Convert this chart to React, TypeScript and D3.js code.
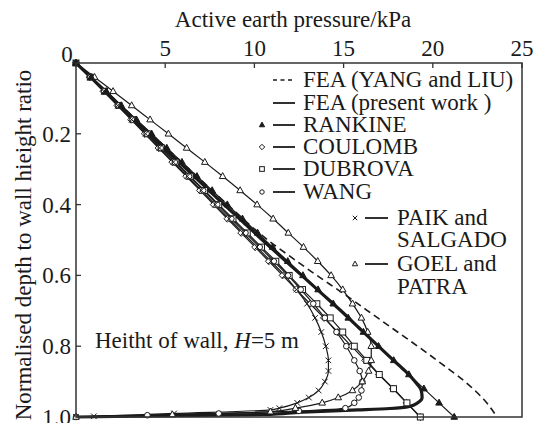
import React from 'react';
import * as d3 from 'd3';

type Pt = [number, number]; // [active earth pressure kPa, normalised depth]

const xTicks = [5, 10, 15, 20, 25];
const yTicks = [0.2, 0.4, 0.6, 0.8, 1.0];
const yTickLabels = ['0.2', '0.4', '0.6', '0.8', '1.0'];

const yangLiu: Pt[] = [
  [0, 0], [2.1, 0.1], [4.2, 0.2], [6.35, 0.3], [8.5, 0.4], [10.75, 0.5], [12.1, 0.55],
  [13.5, 0.6], [14.95, 0.65], [16.35, 0.7], [17.75, 0.75], [19.15, 0.8], [20.5, 0.85],
  [21.8, 0.9], [22.85, 0.95], [23.6, 1.0],
];

const femPresent: Pt[] = [
  [0, 0], [1.02, 0.05], [2.05, 0.1], [3.08, 0.15], [4.12, 0.2], [5.15, 0.25], [6.2, 0.3],
  [7.25, 0.35], [8.3, 0.4], [9.38, 0.45], [10.45, 0.5], [11.55, 0.55], [12.65, 0.6],
  [13.75, 0.65], [14.85, 0.7], [15.9, 0.75], [16.95, 0.8], [17.8, 0.84], [18.45, 0.87],
  [19.0, 0.9], [19.35, 0.925], [19.4, 0.945], [19.15, 0.96], [18.7, 0.97], [17.6, 0.976],
  [15.8, 0.98], [12.7, 0.986], [10.5, 0.993], [0, 1.0],
];

const rankine: Pt[] = [
  [0, 0], [0.85, 0.04], [1.7, 0.08], [2.54, 0.12], [3.39, 0.16], [4.24, 0.2], [5.09, 0.24],
  [5.94, 0.28], [6.78, 0.32], [7.63, 0.36], [8.48, 0.4], [9.33, 0.44], [10.18, 0.48],
  [11.02, 0.52], [11.87, 0.56], [12.72, 0.6], [13.57, 0.64], [14.42, 0.68], [15.26, 0.72],
  [16.11, 0.76], [16.96, 0.8], [17.81, 0.84], [18.66, 0.88], [19.5, 0.92], [20.35, 0.96],
  [21.2, 1.0],
];

const coulomb: Pt[] = [
  [0, 0], [0.77, 0.04], [1.54, 0.08], [2.32, 0.12], [3.09, 0.16], [3.86, 0.2], [4.63, 0.24],
  [5.4, 0.28], [6.18, 0.32], [6.95, 0.36], [7.72, 0.4], [8.49, 0.44], [9.26, 0.48],
  [10.04, 0.52], [10.81, 0.56], [11.58, 0.6], [12.35, 0.64], [13.12, 0.68], [13.9, 0.72],
  [14.67, 0.76], [15.44, 0.8], [16.21, 0.84], [16.98, 0.88], [17.76, 0.92], [18.53, 0.96],
  [19.3, 1.0],
];

const dubrova: Pt[] = [
  [0, 0], [0.8, 0.04], [1.6, 0.08], [2.4, 0.12], [3.2, 0.16], [4.0, 0.2], [4.8, 0.24],
  [5.6, 0.28], [6.4, 0.32], [7.2, 0.36], [8.0, 0.4], [8.8, 0.44], [9.6, 0.48], [10.4, 0.52],
  [11.2, 0.56], [11.95, 0.6], [12.7, 0.64], [13.5, 0.68], [14.25, 0.72], [14.95, 0.76],
  [15.6, 0.8], [16.3, 0.84], [17.0, 0.88], [17.8, 0.92], [18.55, 0.96], [19.3, 1.0],
];

const wang: Pt[] = [
  [0, 0], [0.79, 0.04], [1.58, 0.08], [2.38, 0.12], [3.17, 0.16], [3.96, 0.2], [4.75, 0.24],
  [5.54, 0.28], [6.34, 0.32], [7.13, 0.36], [7.92, 0.4], [8.71, 0.44], [9.5, 0.48],
  [10.3, 0.52], [11.09, 0.56], [11.88, 0.6], [12.6, 0.64], [13.3, 0.68], [13.95, 0.72],
  [14.6, 0.76], [15.15, 0.8], [15.6, 0.84], [15.9, 0.87], [16.05, 0.9], [16.0, 0.925],
  [15.85, 0.945], [15.6, 0.96], [15.1, 0.975], [12.5, 0.983], [8.0, 0.99], [4.0, 0.995],
  [0, 1.0],
];

const paik: Pt[] = [
  [0, 0], [0.78, 0.04], [1.56, 0.08], [2.34, 0.12], [3.12, 0.16], [3.9, 0.2], [4.68, 0.24],
  [5.46, 0.28], [6.24, 0.32], [7.02, 0.36], [7.8, 0.4], [8.58, 0.44], [9.36, 0.48],
  [10.14, 0.52], [10.92, 0.56], [11.7, 0.6], [12.35, 0.64], [12.95, 0.68], [13.4, 0.72],
  [13.75, 0.76], [14.0, 0.8], [14.15, 0.84], [14.15, 0.87], [13.95, 0.9], [13.6, 0.925],
  [13.05, 0.945], [12.4, 0.96], [11.4, 0.975], [10.9, 0.98], [5.5, 0.99], [1.0, 0.998],
  [0, 1.0],
];

const goel: Pt[] = [
  [0, 0], [1.04, 0.04], [2.08, 0.08], [3.12, 0.12], [4.15, 0.16], [5.18, 0.2], [6.2, 0.24],
  [7.22, 0.28], [8.22, 0.32], [9.2, 0.36], [10.15, 0.4], [11.05, 0.44], [11.9, 0.48],
  [12.75, 0.52], [13.55, 0.56], [14.3, 0.6], [14.95, 0.64], [15.5, 0.68], [16.0, 0.72],
  [16.35, 0.76], [16.55, 0.8], [16.55, 0.84], [16.4, 0.87], [16.05, 0.9], [15.5, 0.925],
  [14.7, 0.945], [13.8, 0.96], [12.3, 0.975], [10.9, 0.985], [5.4, 0.993], [0, 1.0],
];

const legendLeft = ['FEA (YANG and LIU)', 'FEA (present work )', 'RANKINE', 'COULOMB', 'DUBROVA', 'WANG'];
const legendRightPaik = ['PAIK and', 'SALGADO'];
const legendRightGoel = ['GOEL and', 'PATRA'];

const FONT = 'Liberation Serif';
const FS = 23;
const INK = '#1a1a1a';

type MarkerKind = 'triFilled' | 'triOpen' | 'diamond' | 'square' | 'circle' | 'times';

function T(props: any) {
  const { children, ...rest } = props;
  return (
    <text fontFamily={FONT} fontSize={FS} fill={INK} {...rest}>
      {children}
    </text>
  );
}

function Marker({ kind, cx, cy, s = 3.3 }: { kind: MarkerKind; cx: number; cy: number; s?: number }) {
  const sw = 1;
  switch (kind) {
    case 'triFilled':
    case 'triOpen': {
      const h = s * 1.8;
      const d = `M${cx},${cy - h * 0.62}L${cx + s},${cy + h * 0.38}L${cx - s},${cy + h * 0.38}Z`;
      return <path d={d} fill={kind === 'triFilled' ? INK : '#fff'} stroke={INK} strokeWidth={sw} />;
    }
    case 'diamond': {
      const r = s * 1.05;
      const d = `M${cx},${cy - r}L${cx + r},${cy}L${cx},${cy + r}L${cx - r},${cy}Z`;
      return <path d={d} fill="#fff" stroke={INK} strokeWidth={sw} />;
    }
    case 'square':
      return <rect x={cx - s * 0.9} y={cy - s * 0.9} width={s * 1.8} height={s * 1.8} fill="#fff" stroke={INK} strokeWidth={sw} />;
    case 'circle':
      return <circle cx={cx} cy={cy} r={s * 0.85} fill="#fff" stroke={INK} strokeWidth={sw} />;
    case 'times': {
      const r = s * 0.85;
      return (
        <path d={`M${cx - r},${cy - r}L${cx + r},${cy + r}M${cx - r},${cy + r}L${cx + r},${cy - r}`} stroke={INK} strokeWidth={sw} fill="none" />
      );
    }
  }
  return null;
}

export default function App() {
  const x = d3.scaleLinear().domain([0, 25]).range([76, 522]);
  const y = d3.scaleLinear().domain([0, 1]).range([63, 417]);

  const smooth = d3.line<Pt>().x((p) => x(p[0])).y((p) => y(p[1])).curve(d3.curveMonotoneY);
  const straight = d3.line<Pt>().x((p) => x(p[0])).y((p) => y(p[1]));

  const marked: { data: Pt[]; kind: MarkerKind; curved: boolean }[] = [
    { data: coulomb, kind: 'diamond', curved: false },
    { data: dubrova, kind: 'square', curved: true },
    { data: wang, kind: 'circle', curved: true },
    { data: paik, kind: 'times', curved: true },
    { data: goel, kind: 'triOpen', curved: true },
    { data: rankine, kind: 'triFilled', curved: false },
  ];

  const leftRows = [87, 110, 132, 154, 176, 199];
  const leftKinds: (MarkerKind | null)[] = [null, null, 'triFilled', 'diamond', 'square', 'circle'];

  return (
    <svg width={534} height={423} style={{ position: 'absolute', left: 0, top: 0, background: '#fff' }}>
      <rect x={0} y={0} width={534} height={423} fill="#fff" />
      {/* curves */}
      <path d={smooth(yangLiu) || ''} fill="none" stroke={INK} strokeWidth={1.6} strokeDasharray="7,4.5" />
      {marked.map((m, i) => (
        <path key={'l' + i} d={(m.curved ? smooth : straight)(m.data) || ''} fill="none" stroke={INK} strokeWidth={1.2} />
      ))}
      <path d={smooth(femPresent) || ''} fill="none" stroke={INK} strokeWidth={3.2} />
      {marked.map((m, i) => (
        <g key={'m' + i}>
          {m.data.map((p, j) => (
            <Marker key={j} kind={m.kind} cx={x(p[0])} cy={y(p[1])} />
          ))}
        </g>
      ))}

      {/* frame */}
      <rect x={76} y={63} width={446} height={354} fill="none" stroke="#333" strokeWidth={1.5} />

      {xTicks.map((t) => (
        <g key={'xt' + t}>
          <line x1={x(t)} x2={x(t)} y1={63} y2={68} stroke="#333" strokeWidth={1.3} />
          <T x={x(t)} y={56} textAnchor="middle">{t}</T>
        </g>
      ))}
      <T x={67} y={62} textAnchor="middle">0</T>
      {yTicks.map((t, i) => (
        <g key={'yt' + t}>
          <line x1={76} x2={81} y1={y(t)} y2={y(t)} stroke="#333" strokeWidth={1.3} />
          <T x={71} y={y(t) + 8} textAnchor="end">{yTickLabels[i]}</T>
        </g>
      ))}

      {/* axis titles */}
      <T x={293} y={27} textAnchor="middle">Active earth pressure/kPa</T>
      <T transform="translate(31,245) rotate(-90)" textAnchor="middle">
        Normalised depth to wall hieight ratio
      </T>

      {/* legend */}
      {legendLeft.map((label, i) => (
        <g key={'lg' + i}>
          {i === 0 ? (
            <line x1={273} x2={295} y1={leftRows[i] - 7} y2={leftRows[i] - 7} stroke={INK} strokeWidth={1.6} strokeDasharray="4,3.5" />
          ) : (
            <line x1={273} x2={295} y1={leftRows[i] - 7} y2={leftRows[i] - 7} stroke={INK} strokeWidth={1.8} />
          )}
          {leftKinds[i] && <Marker kind={leftKinds[i] as MarkerKind} cx={262} cy={leftRows[i] - 7} s={2.6} />}
          <T x={303} y={leftRows[i]}>{label}</T>
        </g>
      ))}
      <Marker kind="times" cx={355} cy={218} s={2.6} />
      <line x1={365} x2={388} y1={218} y2={218} stroke={INK} strokeWidth={1.8} />
      <T x={397} y={225}>{legendRightPaik[0]}</T>
      <T x={397} y={247}>{legendRightPaik[1]}</T>
      <Marker kind="triOpen" cx={355} cy={264} s={2.6} />
      <line x1={365} x2={388} y1={264} y2={264} stroke={INK} strokeWidth={1.8} />
      <T x={397} y={271}>{legendRightGoel[0]}</T>
      <T x={397} y={294}>{legendRightGoel[1]}</T>

      {/* annotation */}
      <T x={95} y={348}>
        Heitht of wall, <tspan fontStyle="italic">H</tspan>=5 m
      </T>
    </svg>
  );
}
